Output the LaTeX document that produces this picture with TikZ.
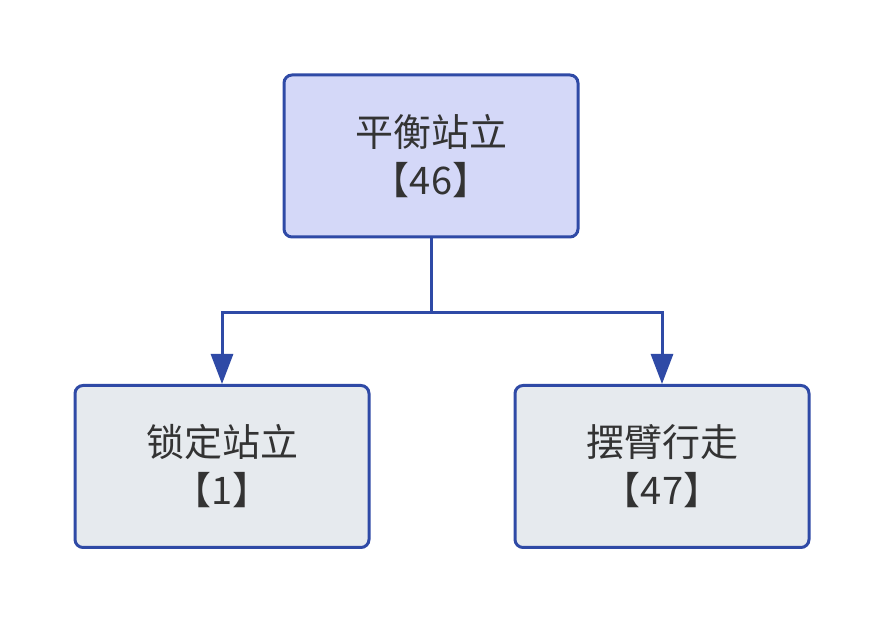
\documentclass[tikz,border=0pt]{standalone}
\usepackage{fontspec}
\setmainfont{Noto Sans CJK SC}
\usetikzlibrary{arrows.meta}
\definecolor{edge}{HTML}{2F4AA6}
\definecolor{topfill}{HTML}{D4D8F8}
\definecolor{botfill}{HTML}{E6EAEE}
\definecolor{txt}{HTML}{333333}
\tikzset{
  box/.style={draw=edge, line width=3pt, rounded corners=8pt, minimum width=294pt, minimum height=162pt, align=center, text=txt, font=\fontsize{38pt}{48pt}\selectfont, inner sep=0pt},
  conn/.style={draw=edge, line width=3pt, -{Triangle[length=30pt,width=22pt]}}
}
\begin{document}
\begin{tikzpicture}[x=1pt,y=1pt]
\useasboundingbox (0,0) rectangle (884,624);
\node[box, fill=topfill] (top) at (431,468) {平衡站立\\【46】};
\node[box, fill=botfill] (left) at (222,157.5) {锁定站立\\【1】};
\node[box, fill=botfill] (right) at (662,157.5) {摆臂行走\\【47】};
\coordinate (mid) at (431,311);
\draw[conn] (top.south) -- (mid) -| (left.north);
\draw[conn] (top.south) -- (mid) -| (right.north);
\end{tikzpicture}
\end{document}
